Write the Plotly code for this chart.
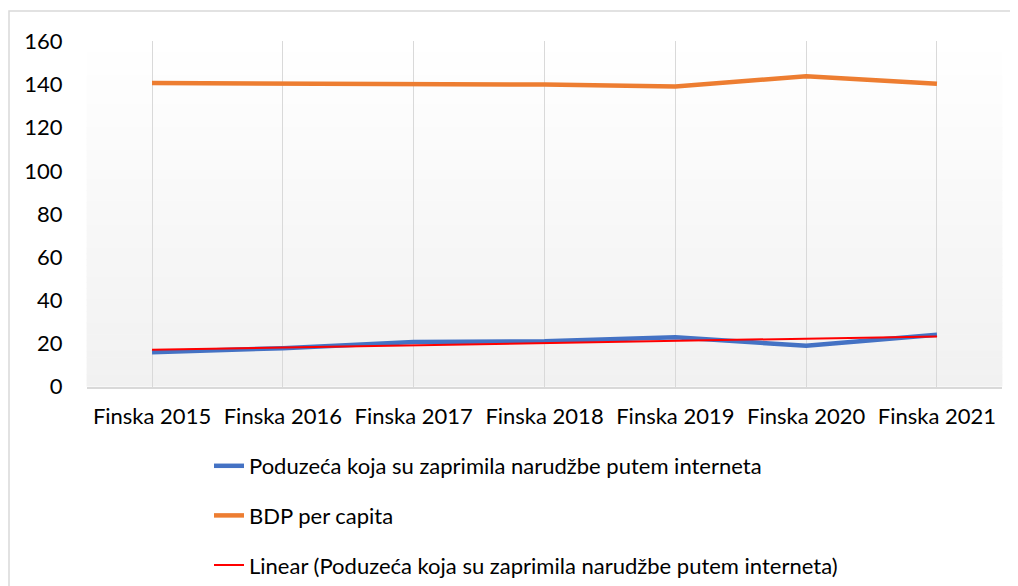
import numpy as np
import plotly.graph_objects as go

categories = ["Finska 2015", "Finska 2016", "Finska 2017", "Finska 2018",
              "Finska 2019", "Finska 2020", "Finska 2021"]
narudzbe = [15.9, 17.8, 20.7, 21.0, 22.9, 18.9, 24.0]
bdp = [140.7, 140.6, 140.3, 140.0, 139.1, 143.9, 140.4]
y_ticks = [0, 20, 40, 60, 80, 100, 120, 140, 160]

name_blue = "Poduzeća koja su zaprimila narudžbe putem interneta"
name_orange = "BDP per capita"
name_trend = "Linear (Poduzeća koja su zaprimila narudžbe putem interneta)"

# linear trendline (least squares) for the first series
xi = np.arange(1, len(narudzbe) + 1)
slope, intercept = np.polyfit(xi, narudzbe, 1)
trend = list(slope * xi + intercept)

W, H = 1018, 586
OFF = 8  # page offset of the figure in the browser
FONT = "Lato"

def fx(px):
    return (px - OFF) / W

def fy(py):
    return (H - (py - OFF)) / H

fig = go.Figure()
fig.add_trace(go.Scatter(x=categories, y=narudzbe, mode="lines", name=name_blue,
                         line=dict(color="#4472C4", width=4.5), legendgroup="a"))
fig.add_trace(go.Scatter(x=categories, y=bdp, mode="lines", name=name_orange,
                         line=dict(color="#ED7D31", width=4.5), legendgroup="b"))
fig.add_trace(go.Scatter(x=categories, y=trend, mode="lines", name=name_trend,
                         line=dict(color="#FF0000", width=2), legendgroup="c"))

# plot area gradient background (white top -> light gray bottom)
n = 60
shapes = []
for i in range(n):
    t = (i + 0.5) / n
    c = int(round(255 - (255 - 241) * t))
    shapes.append(dict(type="rect", xref="x domain", yref="y domain",
                       x0=0, x1=1, y0=1 - (i + 1) / n, y1=1 - i / n + 0.002,
                       fillcolor=f"rgb({c},{c},{c})", line=dict(width=0),
                       layer="below"))
# chart border
shapes.append(dict(type="rect", xref="paper", yref="paper",
                   x0=fx(9), x1=1.02, y0=-0.05, y1=fy(11),
                   line=dict(color="#d9d9d9", width=1.5),
                   fillcolor="rgba(0,0,0,0)", layer="below"))

fig.update_layout(
    template="none",
    width=W, height=H,
    margin=dict(l=0, r=0, t=0, b=0, pad=0, autoexpand=False),
    paper_bgcolor="white",
    plot_bgcolor="white",
    font=dict(family=FONT, size=22, color="#000000"),
    shapes=shapes,
    showlegend=True,
    legend=dict(x=fx(209), xanchor="left", y=fy(445), yanchor="top",
                orientation="v", tracegroupgap=18,
                font=dict(family=FONT, size=22, color="#000000"),
                bgcolor="rgba(0,0,0,0)"),
    xaxis=dict(domain=[fx(86.6), fx(1002.4)], type="category",
               range=[-0.5, len(categories) - 0.5], automargin=False,
               showgrid=True, gridcolor="#d9d9d9", gridwidth=1.3,
               showline=True, linecolor="#d9d9d9", linewidth=1.5,
               ticks="", ticklabelstandoff=9,
               tickfont=dict(family=FONT, size=22), zeroline=False),
    yaxis=dict(domain=[fy(386.6), fy(41.4)], automargin=False,
               range=[0, 160], tickvals=y_ticks,
               showgrid=False, showline=False, zeroline=False,
               ticks="", ticklabelstandoff=23,
               tickfont=dict(family=FONT, size=22)),
)

fig.write_html("out.html")
